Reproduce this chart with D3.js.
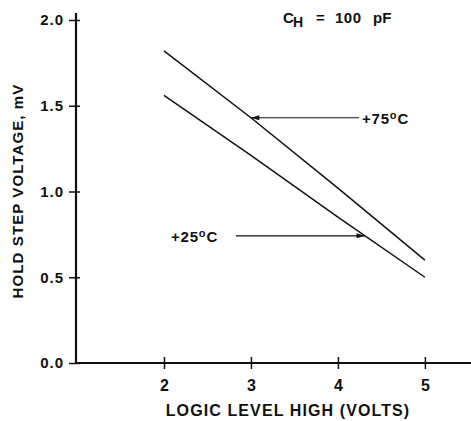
<!DOCTYPE html>
<html>
<head>
<meta charset="utf-8">
<script src="https://cdn.jsdelivr.net/npm/d3@7"></script>
<style>
  body { margin: 0; background: #fff; }
  text { font-family: "Liberation Sans", Arial, sans-serif; font-weight: bold; fill: #111; }
</style>
</head>
<body>
<svg id="chart" width="471" height="421"></svg>
<script>
const xTicks = [2, 3, 4, 5];
const yTicks = [0.0, 0.5, 1.0, 1.5, 2.0];

// hold step voltage (mV) vs logic level high (V)
const logicHigh = [2, 3, 4, 5];
const step75 = [1.82, 1.43, 1.02, 0.60];
const step25 = [1.56, 1.21, 0.85, 0.50];

const svg = d3.select('#chart');
const ink = '#111';
const fontFam = 'Liberation Sans, Arial, sans-serif';

const x = d3.scaleLinear().domain([1, 5.53]).range([77, 471]);
const y = d3.scaleLinear().domain([0, 2]).range([363, 20]);

// axes
const xAxis = svg.append('g').attr('transform', `translate(0,${y(0)})`)
  .call(d3.axisBottom(x).tickValues(xTicks).tickFormat(d3.format('d')).tickSize(6).tickPadding(11));
xAxis.select('.domain').attr('d', `M${x(1) - 1},0H471`).attr('stroke', ink).attr('stroke-width', 2.2);
xAxis.selectAll('.tick line').attr('y1', -6).attr('stroke', ink).attr('stroke-width', 1.5);
xAxis.selectAll('.tick text').attr('font-size', 16).attr('fill', ink)
  .style('font-family', fontFam).style('font-weight', 'bold');

const yAxis = svg.append('g').attr('transform', `translate(${x(1) - 1},0)`)
  .call(d3.axisLeft(y).tickValues(yTicks).tickFormat(d3.format('.1f')).tickSize(6).tickPadding(4));
yAxis.select('.domain').attr('d', `M0,${y(0) + 1}V${y(2) - 7}`).attr('stroke', ink).attr('stroke-width', 2.2);
yAxis.selectAll('.tick line').attr('x1', -7).attr('x2', 4).attr('stroke', ink).attr('stroke-width', 1.5);
yAxis.selectAll('.tick text').attr('x', -12).attr('font-size', 15).attr('letter-spacing', 1).attr('fill', ink)
  .style('font-family', fontFam).style('font-weight', 'bold');

// axis titles
svg.append('text').attr('x', 288).attr('y', 416).attr('text-anchor', 'middle')
  .attr('font-size', 16).attr('letter-spacing', 1.1).text('LOGIC LEVEL HIGH (VOLTS)');
svg.append('text').attr('transform', `translate(23,191)rotate(-90)`).attr('text-anchor', 'middle')
  .attr('font-size', 15).attr('letter-spacing', 1.1).text('HOLD STEP VOLTAGE, mV');

// curves
const line = d3.line().x(d => x(d[0])).y(d => y(d[1]));
[step75, step25].forEach(vals => {
  svg.append('path').datum(logicHigh.map((v, i) => [v, vals[i]]))
    .attr('d', line).attr('fill', 'none').attr('stroke', ink).attr('stroke-width', 1.5);
});

// arrow marker
svg.append('defs').append('marker').attr('id', 'arr').attr('viewBox', '0 0 10 6')
  .attr('refX', 10).attr('refY', 3).attr('markerWidth', 10).attr('markerHeight', 5)
  .attr('markerUnits', 'userSpaceOnUse').attr('orient', 'auto')
  .append('path').attr('d', 'M0,0L10,3L0,6Z').attr('fill', ink);

function tempLabel(tx, ty, txt) {
  const t = svg.append('text').attr('x', tx).attr('y', ty).attr('font-size', 15).attr('letter-spacing', 0.8);
  t.append('tspan').text(txt);
  t.append('tspan').attr('dy', -5).attr('font-size', 11).text('o');
  t.append('tspan').attr('dy', 5).text('C');
}

// +75 label, arrow pointing left onto the curve
const a75 = 3.0, y75 = d3.scaleLinear().domain(logicHigh).range(step75)(a75);
svg.append('line').attr('x1', 359).attr('x2', x(a75)).attr('y1', y(y75)).attr('y2', y(y75))
  .attr('stroke', ink).attr('stroke-width', 1.2).attr('marker-end', 'url(#arr)');
tempLabel(362, y(y75) + 6, '+75');

// +25 label, arrow pointing right onto the curve
const a25 = 4.31, y25 = d3.scaleLinear().domain(logicHigh).range(step25)(a25);
svg.append('line').attr('x1', 236).attr('x2', x(a25)).attr('y1', y(y25)).attr('y2', y(y25))
  .attr('stroke', ink).attr('stroke-width', 1.2).attr('marker-end', 'url(#arr)');
tempLabel(171, y(y25) + 6, '+25');

// capacitance note
svg.append('text').attr('x', 283).attr('y', 23).attr('font-size', 15).text('C');
svg.append('text').attr('x', 293).attr('y', 27).attr('font-size', 14).text('H');
svg.append('text').attr('x', 316).attr('y', 23).attr('font-size', 15).text('=');
svg.append('text').attr('x', 335).attr('y', 23).attr('font-size', 15).attr('letter-spacing', 0.5).text('100');
svg.append('text').attr('x', 373).attr('y', 23).attr('font-size', 15).text('pF');
</script>
</body>
</html>
